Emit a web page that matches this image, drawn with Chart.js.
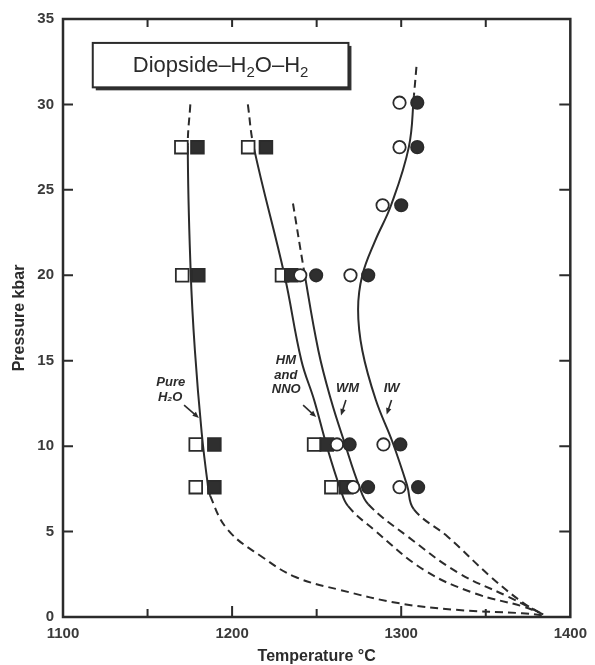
<!DOCTYPE html>
<html><head><meta charset="utf-8">
<script src="https://cdn.jsdelivr.net/npm/chart.js@4.4.1/dist/chart.umd.min.js"></script>
<style>html,body{margin:0;padding:0;background:#fff;}</style>
</head><body>
<canvas id="c" width="595" height="665"></canvas>
<script>
// ---- axis ticks ----
const xTickLabels = [1100, 1200, 1300, 1400];
const yTickLabels = [0, 5, 10, 15, 20, 25, 30, 35];
const xTickMarks = [1150, 1200, 1250, 1300, 1350];
const yTickMarks = [5, 10, 15, 20, 25, 30];

// ---- experimental points [T °C, P kbar] ----
const pureOpen   = [[1170, 27.5], [1170.5, 20], [1178.5, 10.1], [1178.5, 7.6]];
const pureFilled = [[1179.5, 27.5], [1180, 20], [1189.5, 10.1], [1189.5, 7.6]];
const hmOpen     = [[1209.5, 27.5], [1229.5, 20], [1248.5, 10.1], [1258.7, 7.6]];
const hmFilled   = [[1220, 27.5], [1235, 20], [1256, 10.1], [1267.5, 7.6]];
const wmOpen     = [[1240.3, 20], [1262, 10.1], [1271.6, 7.6]];
const wmFilled   = [[1249.7, 20], [1269.5, 10.1], [1280.4, 7.6]];
const iwOpen     = [[1299, 30.1], [1299, 27.5], [1289, 24.1], [1270, 20], [1289.5, 10.1], [1299, 7.6]];
const iwFilled   = [[1309.5, 30.1], [1309.5, 27.5], [1300, 24.1], [1280.5, 20], [1299.5, 10.1], [1310, 7.6]];

// ---- curves [T, P]: dashed top, solid, dashed bottom ----
const pureDashTop = [[1175.3, 30.0], [1173.8, 27.6]];
const pureSolid   = [[1173.8, 27.6], [1175.5, 20.2], [1178, 15.6], [1182, 10.8], [1185.5, 7.85], [1187, 7.1]];
const pureDashLow = [[1187, 7.1], [1197.5, 5.1], [1218, 3.5], [1237.5, 2.34], [1264, 1.58], [1299, 0.8], [1332.5, 0.42], [1371.5, 0.22], [1384, 0.1]];
const hmDashTop   = [[1209.3, 30.0], [1212.8, 27.5]];
const hmSolid     = [[1212.8, 27.5], [1231, 20], [1241, 15], [1248.5, 12.7], [1256, 10], [1264, 7.5], [1268.5, 6.5]];
const hmDashLow   = [[1268.5, 6.5], [1284, 5.1], [1313.5, 2.75], [1343, 1.4], [1372.5, 0.6], [1384, 0.15]];
const wmDashTop   = [[1236, 24.2], [1242.5, 20.3]];
const wmSolid     = [[1242.5, 20.3], [1251, 15.6], [1258.5, 12.7], [1266.5, 10.2], [1275, 7.7], [1280.5, 6.6]];
const wmDashLow   = [[1280.5, 6.6], [1304, 4.7], [1333.5, 2.6], [1363, 1.2], [1384, 0.15]];
const iwDashTop   = [[1309, 32.2], [1307.5, 30.5]];
const iwSolid     = [[1307.5, 30.5], [1304.5, 27.5], [1294, 24.1], [1284.5, 22], [1277, 20], [1274.5, 18], [1277, 15.6], [1285, 12.7], [1295, 10.2], [1303.5, 7.7], [1307.5, 6.3]];
const iwDashLow   = [[1307.5, 6.3], [1327.5, 4.7], [1353, 2.35], [1372.5, 0.8], [1384, 0.15]];

// ---- text ----
const titleParts = [['Diopside\u2013H', 0], ['2', 1], ['O\u2013H', 0], ['2', 1]];
const labels = [
  { text: 'Pure', at: [1163.7, 13.75] },
  { text: 'H\u2082O', at: [1163.4, 12.85] },
  { text: 'HM', at: [1231.8, 15.0] },
  { text: 'and', at: [1231.8, 14.15] },
  { text: 'NNO', at: [1232.0, 13.3] },
  { text: 'WM', at: [1268.2, 13.4] },
  { text: 'IW', at: [1294.3, 13.4] }
];
const arrows = [
  [[1171.6, 12.4], [1180.4, 11.65]],
  [[1242.0, 12.4], [1249.7, 11.7]],
  [[1267.3, 12.7], [1264.4, 11.8]],
  [[1294.3, 12.7], [1291.4, 11.85]]
];
const titleBox = [[1117.6, 33.6], [1268.8, 31.0]];

const ink = '#2b2b2b';
const FONT = "'Liberation Sans', Arial, Helvetica, sans-serif";
Chart.defaults.font.family = FONT;

const toXY = pts => pts.map(([x, y]) => ({ x, y }));
function curve(parts) {
  const pts = [], flags = [];
  parts.forEach(([seg, dashed], k) => {
    seg.forEach((p, i) => {
      if (k > 0 && i === 0) return;
      if (pts.length > 0) flags.push(dashed);
      pts.push(p);
    });
  });
  return { data: toXY(pts), showLine: true, pointRadius: 0, pointHoverRadius: 0,
    borderColor: ink, borderWidth: 2, borderDash: [],
    segment: { borderDash: c => flags[c.p0DataIndex] ? [8, 5] : undefined },
    tension: 0.4, fill: false, order: 20, clip: false };
}
function markers(pts, shape, filled, order) {
  const r = shape === 'rect' ? 9 : 6.2;
  return { data: toXY(pts), showLine: false, pointStyle: shape, pointRadius: r, pointHoverRadius: r,
    pointBackgroundColor: filled ? '#2f2f2f' : '#ffffff', pointBorderColor: ink,
    pointBorderWidth: 1.8, order };
}

const decor = {
  id: 'decor',
  afterDraw(chart) {
    const { ctx, chartArea: a, scales: { x, y } } = chart;
    ctx.save();
    ctx.strokeStyle = ink; ctx.fillStyle = ink;
    ctx.lineWidth = 2.5;
    ctx.strokeRect(a.left, a.top, a.right - a.left, a.bottom - a.top);
    ctx.lineWidth = 2;
    ctx.beginPath();
    xTickMarks.forEach(v => {
      const px = x.getPixelForValue(v);
      const len = (v % 100 === 0) ? 11 : 8;
      ctx.moveTo(px, a.bottom); ctx.lineTo(px, a.bottom - len);
      ctx.moveTo(px, a.top); ctx.lineTo(px, a.top + 8);
    });
    yTickMarks.forEach(v => {
      const py = y.getPixelForValue(v);
      ctx.moveTo(a.left, py); ctx.lineTo(a.left + 10, py);
      ctx.moveTo(a.right, py); ctx.lineTo(a.right - 11, py);
    });
    ctx.stroke();
    // title box
    const bx0 = x.getPixelForValue(titleBox[0][0]), by0 = y.getPixelForValue(titleBox[0][1]);
    const bx1 = x.getPixelForValue(titleBox[1][0]), by1 = y.getPixelForValue(titleBox[1][1]);
    ctx.fillStyle = '#333';
    ctx.fillRect(bx0 + 3, by0 + 3, bx1 - bx0, by1 - by0);
    ctx.fillStyle = '#fff';
    ctx.fillRect(bx0, by0, bx1 - bx0, by1 - by0);
    ctx.lineWidth = 2;
    ctx.strokeRect(bx0, by0, bx1 - bx0, by1 - by0);
    const big = '22px ' + FONT, small = '15px ' + FONT;
    let total = 0;
    titleParts.forEach(([t, sub]) => { ctx.font = sub ? small : big; total += ctx.measureText(t).width; });
    let cx = (bx0 + bx1) / 2 - total / 2;
    const base = (by0 + by1) / 2 + 7;
    ctx.fillStyle = '#2b2b2b';
    ctx.textAlign = 'left'; ctx.textBaseline = 'alphabetic';
    titleParts.forEach(([t, sub]) => {
      ctx.font = sub ? small : big;
      ctx.fillText(t, cx, base + (sub ? 5 : 0));
      cx += ctx.measureText(t).width;
    });
    // labels
    ctx.font = 'italic bold 13px ' + FONT;
    ctx.textAlign = 'center'; ctx.textBaseline = 'middle';
    labels.forEach(l => {
      ctx.fillText(l.text, x.getPixelForValue(l.at[0]), y.getPixelForValue(l.at[1]));
    });
    // arrows
    ctx.lineWidth = 1.6;
    arrows.forEach(([p0, p1]) => {
      const x0 = x.getPixelForValue(p0[0]), y0 = y.getPixelForValue(p0[1]);
      const x1 = x.getPixelForValue(p1[0]), y1 = y.getPixelForValue(p1[1]);
      const ang = Math.atan2(y1 - y0, x1 - x0);
      ctx.beginPath(); ctx.moveTo(x0, y0); ctx.lineTo(x1 - 4 * Math.cos(ang), y1 - 4 * Math.sin(ang)); ctx.stroke();
      ctx.beginPath();
      ctx.moveTo(x1, y1);
      ctx.lineTo(x1 - 7 * Math.cos(ang - 0.4), y1 - 7 * Math.sin(ang - 0.4));
      ctx.lineTo(x1 - 7 * Math.cos(ang + 0.4), y1 - 7 * Math.sin(ang + 0.4));
      ctx.closePath(); ctx.fill();
    });
    ctx.restore();
  }
};

new Chart(document.getElementById('c'), {
  type: 'scatter',
  data: {
    datasets: [
      curve([[pureDashTop, true], [pureSolid, false], [pureDashLow, true]]),
      curve([[hmDashTop, true], [hmSolid, false], [hmDashLow, true]]),
      curve([[wmDashTop, true], [wmSolid, false], [wmDashLow, true]]),
      curve([[iwDashTop, true], [iwSolid, false], [iwDashLow, true]]),
      markers(pureOpen, 'rect', false, 9), markers(pureFilled, 'rect', true, 8),
      markers(hmOpen, 'rect', false, 7), markers(hmFilled, 'rect', true, 6),
      markers(wmOpen, 'circle', false, 5), markers(wmFilled, 'circle', true, 4),
      markers(iwOpen, 'circle', false, 3), markers(iwFilled, 'circle', true, 2)
    ]
  },
  options: {
    responsive: false, animation: false, events: [],
    layout: { autoPadding: false, padding: { top: 19, right: 17, left: 0, bottom: 0 } },
    plugins: { legend: { display: false }, tooltip: { enabled: false } },
    scales: {
      x: {
        type: 'linear', min: 1100, max: 1400,
        grid: { display: false, drawTicks: false }, border: { display: false },
        afterBuildTicks: s => { s.ticks = xTickLabels.map(v => ({ value: v })); },
        afterFit: s => { s.height = 48; },
        ticks: { padding: 8, color: '#3a3a3a', font: { size: 15, weight: 'bold' }, maxRotation: 0, autoSkip: false,
          callback: v => String(v) },
        title: { display: true, text: 'Temperature °C', color: '#2b2b2b',
          font: { size: 16, weight: 'bold', lineHeight: 1 }, padding: { top: 0, bottom: 0 } }
      },
      y: {
        type: 'linear', min: 0, max: 35,
        grid: { display: false, drawTicks: false }, border: { display: false },
        afterBuildTicks: s => { s.ticks = yTickLabels.map(v => ({ value: v })); },
        afterFit: s => { s.width = 63; },
        ticks: { padding: 9, color: '#3a3a3a', font: { size: 15, weight: 'bold' }, autoSkip: false,
          callback: v => String(v) },
        title: { display: true, text: 'Pressure kbar', color: '#2b2b2b',
          font: { size: 16, weight: 'bold', lineHeight: 1 }, padding: { top: 12, bottom: 0 } }
      }
    }
  },
  plugins: [decor]
});
</script>
</body></html>
